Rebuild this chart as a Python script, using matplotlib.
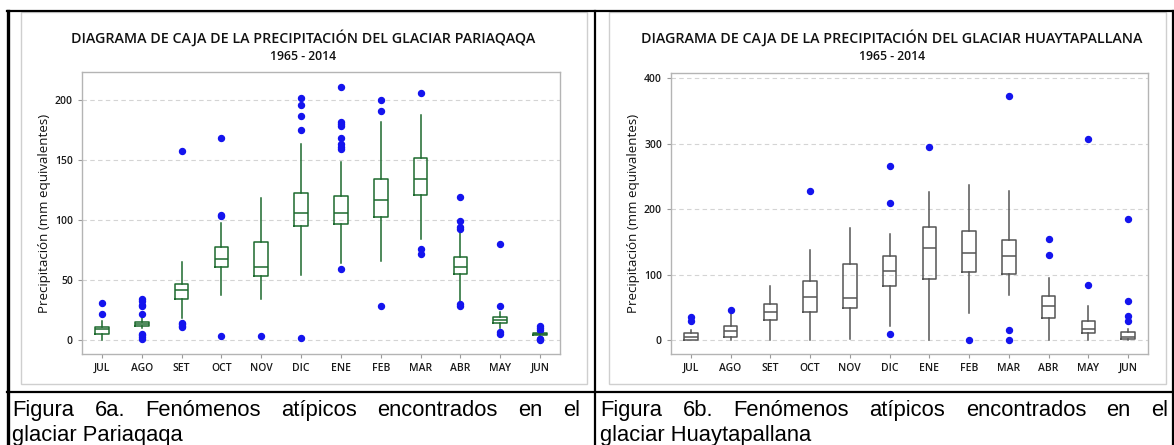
import matplotlib
matplotlib.use('Agg')
import matplotlib.pyplot as plt
from matplotlib.lines import Line2D
from matplotlib.patches import Rectangle

W, H = 1174, 445

months = ['JUL', 'AGO', 'SET', 'OCT', 'NOV', 'DIC', 'ENE', 'FEB', 'MAR', 'ABR', 'MAY', 'JUN']

# Pariaqaqa
pq_q1 = [5.2, 11.6, 33.9, 60.9, 53.4, 95.0, 96.4, 102.2, 121.0, 54.7, 13.9, 3.8]
pq_med = [9.0, 13.5, 41.6, 67.5, 60.9, 105.5, 105.5, 117.0, 134.0, 60.6, 16.4, 4.7]
pq_q3 = [11.0, 15.2, 46.8, 77.1, 81.3, 122.6, 119.8, 134.0, 151.4, 69.4, 18.9, 5.5]
pq_lo = [0.0, 9.6, 18.5, 37.2, 33.9, 54.0, 63.9, 66.0, 84.0, 32.0, 9.7, 3.0]
pq_hi = [15.7, 19.3, 65.0, 97.2, 117.9, 163.0, 148.0, 182.0, 187.5, 90.3, 23.6, 6.0]
pq_out = [[21.8, 30.6],
          [0.8, 2.8, 4.0, 4.7, 21.8, 28.0, 29.2, 32.5, 33.9],
          [10.5, 11.6, 13.0, 14.3, 157.5],
          [3.0, 103.5, 104.5, 168.0],
          [3.0],
          [1.7, 175.3, 187.0, 195.5, 202.0],
          [59.2, 159.0, 161.0, 163.0, 168.0, 178.0, 180.0, 182.0, 211.0],
          [28.6, 190.8, 200.0],
          [71.4, 75.5, 206.0],
          [28.3, 30.0, 92.2, 94.4, 99.2, 119.4],
          [5.0, 6.9, 28.6, 80.3],
          [0.0, 0.5, 1.0, 8.3, 10.3, 12.0]]

# Huaytapallana
hy_q1 = [0.0, 4.6, 30.5, 43.8, 49.9, 82.4, 93.1, 103.8, 101.8, 33.6, 10.7, 1.5]
hy_med = [5.0, 13.7, 42.7, 65.6, 65.1, 105.9, 141.5, 132.8, 129.3, 52.9, 16.8, 4.6]
hy_q3 = [10.7, 21.4, 56.0, 90.6, 116.0, 128.2, 172.5, 166.9, 153.2, 67.7, 30.0, 12.2]
hy_lo = [0.0, 0.0, 0.0, 0.0, 2.5, 22.4, 0.0, 42.2, 69.2, 0.0, 0.0, 0.0]
hy_hi = [15.0, 39.7, 82.4, 137.4, 171.5, 162.3, 227.0, 237.7, 228.5, 94.7, 52.9, 17.8]
hy_out = [[29.0, 35.6], [46.8], [], [227.5], [], [9.2, 209.2, 266.0], [294.6],
          [0.0], [0.0, 15.3, 372.5], [130.8, 154.7], [84.0, 306.9],
          [29.0, 37.2, 60.6, 185.2]]

pq_title = 'DIAGRAMA DE CAJA DE LA PRECIPITACIÓN DEL GLACIAR PARIAQAQA'
hy_title = 'DIAGRAMA DE CAJA DE LA PRECIPITACIÓN DEL GLACIAR HUAYTAPALLANA'
subtitle = '1965 - 2014'
ylabel = 'Precipitación (mm equivalentes)'
cap_a = ['Figura 6a. Fenómenos atípicos encontrados en el', 'glaciar Pariaqaqa']
cap_b = ['Figura 6b. Fenómenos atípicos encontrados en el', 'glaciar Huaytapallana']

UI = 'Open Sans'
BLUE = '#1414ee'

fig = plt.figure(figsize=(W / 100, H / 100), dpi=100)


def fx(px):
    return px / W


def fy(py):
    return 1 - py / H


def hline(x0, x1, y, c='black', lw=1.0):
    fig.add_artist(Line2D([fx(x0), fx(x1)], [fy(y), fy(y)], color=c, lw=lw,
                          transform=fig.transFigure))


def vline(x, y0, y1, c='black', lw=1.0):
    fig.add_artist(Line2D([fx(x), fx(x)], [fy(y0), fy(y1)], color=c, lw=lw,
                          transform=fig.transFigure))


def box_panel(rect, q1, med, q3, lo, hi, out, color, ylim, yticks):
    l, t, r, b = rect
    ax = fig.add_axes([fx(l), fy(b), fx(r - l), (b - t) / H])
    stats = []
    for i in range(len(months)):
        stats.append({'label': months[i], 'q1': q1[i], 'med': med[i], 'q3': q3[i],
                      'whislo': lo[i], 'whishi': hi[i], 'fliers': out[i]})
    ax.bxp(stats, positions=range(1, 13), widths=0.34, showcaps=False,
           boxprops=dict(color=color, lw=1.1),
           medianprops=dict(color=color, lw=1.1),
           whiskerprops=dict(color=color, lw=1.1),
           flierprops=dict(marker='o', markerfacecolor=BLUE, markeredgecolor=BLUE,
                           markersize=4.3, linestyle='none'))
    ax.set_xlim(0.5, 12.5)
    ax.set_ylim(*ylim)
    ax.set_yticks(yticks)
    ax.set_xticks(range(1, 13))
    ax.set_xticklabels(months)
    ax.yaxis.grid(True, color='#d4d4d4', linestyle=(0, (4, 3)), lw=0.8)
    ax.set_axisbelow(True)
    for s in ax.spines.values():
        s.set_color('#b4b4b4')
        s.set_linewidth(1.0)
    ax.tick_params(colors='#9a9a9a', length=3, width=0.8, labelcolor='#1a1a1a',
                   labelsize=7.5)
    for lab in ax.get_xticklabels() + ax.get_yticklabels():
        lab.set_fontfamily(UI)
        lab.set_fontweight('semibold')
    return ax


def justify(words_line, x0, x1, y, size):
    r = fig.canvas.get_renderer()
    words = words_line.split()
    texts = [fig.text(0, fy(y), w, fontsize=size, family='Liberation Sans',
                      va='baseline', ha='left') for w in words]
    widths = [t.get_window_extent(r).width for t in texts]
    gap = ((x1 - x0) - sum(widths)) / (len(words) - 1)
    x = x0
    for t, w in zip(texts, widths):
        t.set_x(fx(x))
        x += w + gap


# table lines
hline(7, 1174, 11, lw=1.6)
hline(7, 1174, 391.5, lw=1.6)
vline(8, 11, 445, lw=2.4)
vline(595, 11, 445, lw=1.6)
vline(1172.5, 11, 445, lw=1.6)

# chart frames
for (l, r) in [(20.5, 587), (609, 1166)]:
    fig.add_artist(Rectangle((fx(l), fy(384)), fx(r - l), (384 - 12) / H, fill=False,
                             edgecolor='#cfcfcf', lw=1.0, transform=fig.transFigure))

box_panel((82, 72, 560, 354), pq_q1, pq_med, pq_q3, pq_lo, pq_hi, pq_out,
          '#1d6a2e', (-11.7, 223.3), [0, 50, 100, 150, 200])
box_panel((671, 73, 1148, 354), hy_q1, hy_med, hy_q3, hy_lo, hy_hi, hy_out,
          '#555555', (-21, 408), [0, 100, 200, 300, 400])

for cx, title in [(303, pq_title), (892, hy_title)]:
    fig.text(fx(cx), fy(38), title, ha='center', va='center', fontsize=10.3,
             family=UI, fontweight='semibold', color='#111111')
    fig.text(fx(cx), fy(56), subtitle, ha='center', va='center', fontsize=8.8,
             family=UI, fontweight='semibold', color='#111111')

for lx in [45, 634]:
    fig.text(fx(lx), fy(213), ylabel, ha='center', va='center', rotation=90,
             fontsize=9.6, family=UI, color='#111111')

# captions
justify(cap_a[0], 12, 580, 416, 15.8)
fig.text(fx(12), fy(441.5), cap_a[1], fontsize=15.8, family='Liberation Sans',
         va='baseline')
justify(cap_b[0], 600.5, 1168, 416, 15.8)
fig.text(fx(600.5), fy(441.5), cap_b[1], fontsize=15.8, family='Liberation Sans',
         va='baseline')

fig.savefig('out.png', dpi=100)
